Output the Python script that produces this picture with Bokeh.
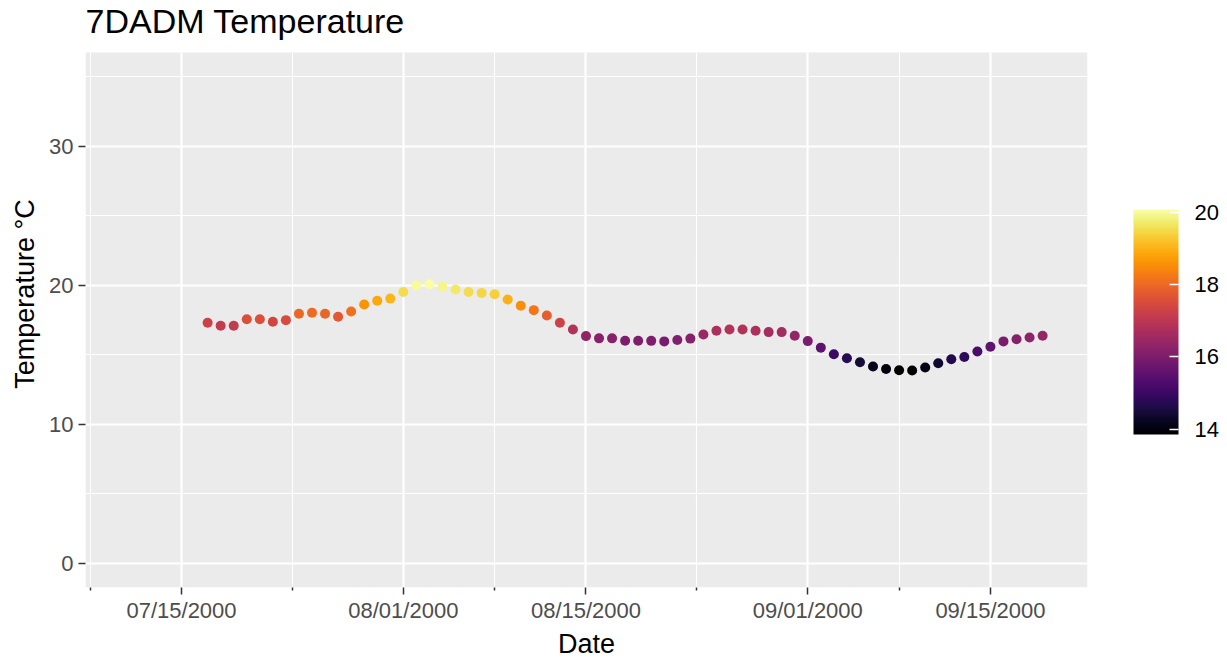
import pandas as pd
from bokeh.plotting import figure
from bokeh.models import (Range1d, FixedTicker, DatetimeTickFormatter, ColorBar,
                          LinearColorMapper, ColumnDataSource, Label, BoxAnnotation)
from bokeh.palettes import Inferno256
from bokeh.embed import file_html
from bokeh.resources import INLINE

# ---- data ----
dates = pd.date_range("2000-07-17", "2000-09-19", freq="D")
temps = [17.30, 17.09, 17.09, 17.56, 17.56, 17.37, 17.49, 17.95, 18.02, 17.95,
         17.73, 18.11, 18.61, 18.88, 19.04,
         19.52, 19.99, 20.07, 19.90, 19.69, 19.52, 19.45, 19.35, 18.97, 18.52,
         18.21, 17.82, 17.30, 16.82, 16.34, 16.18, 16.18, 16.01, 16.01, 16.00,
         15.96, 16.06, 16.16, 16.46, 16.73, 16.82, 16.82, 16.73, 16.63, 16.63,
         16.37,
         15.98, 15.51, 15.03, 14.75, 14.46, 14.15, 13.98, 13.88, 13.86, 14.08,
         14.39, 14.67, 14.84, 15.23, 15.58, 15.96, 16.12, 16.24, 16.37]
x_major = ["2000-07-15", "2000-08-01", "2000-08-15", "2000-09-01", "2000-09-15"]
x_minor = ["2000-07-08", "2000-07-23 12:00", "2000-08-08", "2000-08-23 12:00", "2000-09-08"]
y_major = [0, 10, 20, 30]
y_minor = [5, 15, 25, 35]
cbar_ticks = [14, 16, 18, 20]
t_low, t_high = 13.86, 20.07
title_text = "7DADM Temperature"

# panel limits (ggplot-style expanded limits)
y_lo, y_hi = -1.75, 36.75
PANEL_H, TOP_GAP = 535, 52          # pixels: grey panel height, space above it
y_top = y_hi + TOP_GAP * (y_hi - y_lo) / PANEL_H


def ms(s):
    return pd.Timestamp(s).value / 1e6


DAY = 86400000.0
x_start = ms("2000-07-15") - 7.36 * DAY
x_end = ms("2000-07-15") + 69.44 * DAY

FONT = "Liberation Sans"

mapper = LinearColorMapper(palette=Inferno256, low=t_low, high=t_high)
src = ColumnDataSource(dict(date=dates, temp=temps))

p = figure(x_axis_type="datetime",
           x_range=Range1d(x_start, x_end), y_range=Range1d(y_lo, y_top),
           frame_width=1002, frame_height=PANEL_H + TOP_GAP,
           min_border_left=85, min_border_top=0, min_border_right=139,
           min_border_bottom=76,
           output_backend="svg", toolbar_location=None,
           background_fill_color="white", border_fill_color="white")
p.outline_line_color = None
p.title.text = ""
p.title.standoff = 0
p.title.visible = False

# grey plotting panel
panel = BoxAnnotation(bottom=y_lo, top=y_hi, fill_color="#EBEBEB", fill_alpha=1,
                      line_color=None, level="underlay")
p.center = [panel] + list(p.center)

p.scatter("date", "temp", source=src, size=10, line_color=None,
          fill_color={"field": "temp", "transform": mapper})

# title, above the grey panel
p.add_layout(Label(x=0, y=PANEL_H + 32, x_units="screen", y_units="screen",
                   text=title_text, text_font=FONT, text_font_size="34px",
                   text_color="black", text_baseline="alphabetic",
                   text_align="left"))

# axes
p.xaxis.ticker = FixedTicker(ticks=[ms(d) for d in x_major],
                             minor_ticks=[ms(d) for d in x_minor])
fmt = "%m/%d/%Y"
p.xaxis.formatter = DatetimeTickFormatter(days=fmt, months=fmt, years=fmt,
                                          hours=fmt, minutes=fmt, seconds=fmt,
                                          milliseconds=fmt, minsec=fmt,
                                          hourmin=fmt)
p.yaxis.ticker = FixedTicker(ticks=y_major, minor_ticks=y_minor)

for ax in (p.xaxis[0], p.yaxis[0]):
    ax.axis_line_color = None
    ax.major_tick_line_color = "#333333"
    ax.major_tick_line_width = 1.5
    ax.major_tick_in = 0
    ax.major_tick_out = 7
    ax.major_label_text_font = FONT
    ax.major_label_text_font_size = "22px"
    ax.major_label_text_color = "#4D4D4D"
    ax.axis_label_text_font = FONT
    ax.axis_label_text_font_size = "27px"
    ax.axis_label_text_font_style = "normal"
    ax.axis_label_text_color = "black"

p.xaxis.major_label_standoff = 3
p.yaxis.major_label_standoff = 5
p.xaxis.axis_label_standoff = 3
p.yaxis.axis_label_standoff = 6

p.xaxis.axis_label = "Date"
p.yaxis.axis_label = "Temperature \u00b0C"
p.yaxis.bounds = (y_lo, y_hi)
p.xaxis.minor_tick_line_color = "#333333"
p.xaxis.minor_tick_line_width = 1.5
p.xaxis.minor_tick_in = 0
p.xaxis.minor_tick_out = 3
p.yaxis.minor_tick_line_color = None

# grid
for g in (p.xgrid[0], p.ygrid[0]):
    g.grid_line_color = "white"
    g.grid_line_width = 2.2
    g.minor_grid_line_color = "white"
    g.minor_grid_line_width = 1.1
p.xgrid[0].cross_bounds = (y_lo, y_hi)

# colour bar
cb = ColorBar(color_mapper=mapper, ticker=FixedTicker(ticks=cbar_ticks),
              width=45, height=225, location=(1048, 153), padding=0,
              label_standoff=16,
              major_label_text_font=FONT, major_label_text_font_size="22px",
              major_label_text_color="black",
              major_tick_line_color="white", major_tick_line_width=1.5,
              major_tick_in=9, major_tick_out=0,
              bar_line_color=None, background_fill_alpha=0,
              border_line_color=None)
p.add_layout(cb)

open("out.html", "w").write(file_html(p, INLINE))
